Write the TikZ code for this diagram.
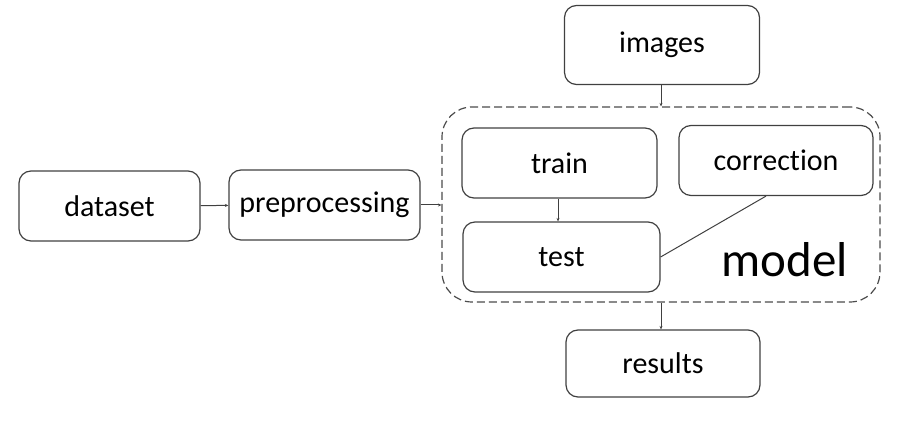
\documentclass[tikz,border=0pt]{standalone}
\usepackage{fontspec}
\setmainfont[Ligatures={NoCommon,NoDiscretionary,NoRare}]{Carlito}
\usetikzlibrary{arrows.meta,calc}

\tikzset{
    block/.style={draw=black!75, line width=1.2pt, rounded corners=12pt,
        minimum width=#1, minimum height=70pt, inner sep=0pt,
        font=\fontsize{30}{34}\selectfont},
    block/.default=193pt,
    link/.style={draw=black!75, line width=1pt, -{Stealth[length=3.5pt,width=3pt]}}
}

\begin{document}
\begin{tikzpicture}[x=1pt, y=-1pt]
            \useasboundingbox (0,0) rectangle (907,435);

            \node[draw=black!70, line width=1.2pt, dashed, dash pattern=on 8pt off 4pt,
                rounded corners=30pt, minimum width=438pt, minimum height=195pt]
                (model) at (661,204.5) {};
            \node[font=\fontsize{49}{54}\selectfont] (modellabel) at (785,260) {model};

            \node[block=181pt] (dataset) at (109.5,206) {dataset};
            \node[block=191pt] (preproc) at (324.5,205) {preprocessing};
            \node[block=195pt, minimum height=79pt] (images) at (662,45) {images};
            \node[block=195pt] (train) at (559.5,163) {train};
            \node[block=194pt] (correction) at (776,160.5) {correction};
            \node[block=197pt] (test) at (561.5,257) {test};
            \node[block=194pt, minimum height=67pt] (results) at (663,363.5) {results};

            \draw [link] (dataset) -- (preproc);
            \draw [link] (preproc.east) -- (preproc.east -| model.west);
            \draw [link] (images.south -| model.north) -- (model.north);
            \draw [link] (train.south -| 558,0) -- (test.north -| 558,0);
            \draw [link] (model.south) -- (results.north -| model.south);
            \draw [draw=black!75, line width=1pt] (test.east) -- ($(correction.south)+(-10,0)$);

        \end{tikzpicture}
\end{document}
